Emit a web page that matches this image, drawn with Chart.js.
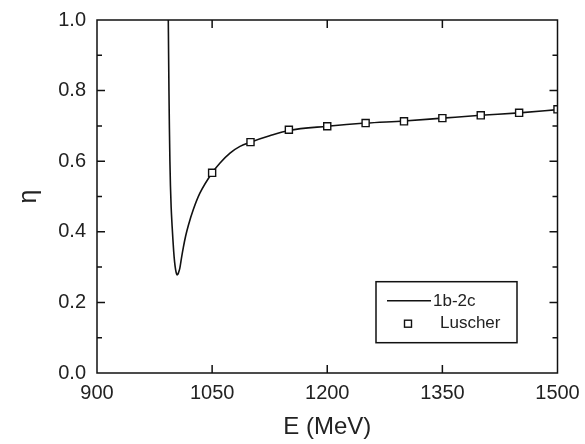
<!DOCTYPE html>
<html>
<head>
<meta charset="utf-8">
<script src="https://cdn.jsdelivr.net/npm/chart.js@4/dist/chart.umd.min.js"></script>
<style>
    html, body { margin: 0; padding: 0; background: #fff; }
    #wrap { width: 585px; height: 444px; }
</style>
</head>
<body>
<div id="wrap"><canvas id="etaChart"></canvas></div>
<script>
// 1b-2c curve
const curveEnergy = [992.9, 993.3, 993.75, 994.3, 995.0, 995.7, 996.6, 997.9, 998.9, 999.9,
    1001.1, 1002.4, 1003.6, 1004.4, 1005.5, 1006.5, 1008, 1010, 1012.5, 1015.5,
    1019, 1025.5, 1034.2, 1050, 1060.3, 1073.3, 1086.3, 1100, 1125, 1150,
    1200, 1250, 1300, 1350, 1400, 1450, 1500];
const curveEta = [1.0, 0.9, 0.8, 0.7, 0.6, 0.53, 0.47, 0.415, 0.378, 0.345,
    0.315, 0.293, 0.281, 0.278, 0.28, 0.286, 0.298, 0.325, 0.356, 0.388,
    0.418, 0.463, 0.510, 0.567, 0.595, 0.623, 0.642, 0.654, 0.672, 0.687,
    0.699, 0.708, 0.714, 0.722, 0.730, 0.737, 0.746];

// Luscher points
const luscherEnergy = [1050, 1100, 1150, 1200, 1250, 1300, 1350, 1400, 1450, 1500];
const luscherEta = [0.567, 0.654, 0.689, 0.699, 0.708, 0.713, 0.722, 0.730, 0.737, 0.747];

const seriesLabels = ['1b-2c', 'Luscher'];
const xTickStep = 150;
const yTickStep = 0.1;

const FONT = 'Liberation Sans, Arial, Helvetica, sans-serif';

function toPoints(xs, ys) {
    return xs.map((x, i) => ({ x: x, y: ys[i] }));
}

// frame with inward ticks, like the original plot
const framePlugin = {
    id: 'frame',
    afterDatasetsDraw(chart) {
        const { ctx, chartArea: a, scales } = chart;
        ctx.save();
        ctx.strokeStyle = '#111';
        ctx.lineWidth = 1.5;
        ctx.strokeRect(a.left, a.top, a.right - a.left, a.bottom - a.top);

        ctx.beginPath();
        scales.x.ticks.forEach(t => {
            if (t.value <= scales.x.min || t.value >= scales.x.max) return;
            const px = scales.x.getPixelForValue(t.value);
            ctx.moveTo(px, a.bottom);
            ctx.lineTo(px, a.bottom - 8);
            ctx.moveTo(px, a.top);
            ctx.lineTo(px, a.top + 8);
        });
        scales.y.ticks.forEach(t => {
            if (t.value <= scales.y.min || t.value >= scales.y.max) return;
            const py = scales.y.getPixelForValue(t.value);
            const len = Math.round(t.value * 10) % 2 === 0 ? 8 : 5;
            ctx.moveTo(a.left, py);
            ctx.lineTo(a.left + len, py);
            ctx.moveTo(a.right, py);
            ctx.lineTo(a.right - len, py);
        });
        ctx.stroke();
        ctx.restore();
    }
};

// boxed legend inside the plot, lower right
const legendBoxPlugin = {
    id: 'legendBox',
    afterDraw(chart) {
        const { ctx, chartArea: a } = chart;
        const left = a.right - 181.5;
        const top = a.bottom - 91.3;
        ctx.save();
        ctx.fillStyle = '#fff';
        ctx.fillRect(left, top, 141, 61);
        ctx.strokeStyle = '#111';
        ctx.lineWidth = 1.5;
        ctx.strokeRect(left, top, 141, 61);

        // line sample
        ctx.beginPath();
        ctx.moveTo(left + 11, top + 19);
        ctx.lineTo(left + 55, top + 19);
        ctx.stroke();

        // square sample
        ctx.lineWidth = 1.4;
        ctx.strokeRect(left + 28.5, top + 38.5, 7, 7);

        ctx.fillStyle = '#222';
        ctx.font = '17px ' + FONT;
        ctx.textBaseline = 'middle';
        ctx.fillText(seriesLabels[0], left + 57, top + 20);
        ctx.fillText(seriesLabels[1], left + 64, top + 42);
        ctx.restore();
    }
};

new Chart(document.getElementById('etaChart').getContext('2d'), {
    type: 'scatter',
    data: {
        datasets: [
            {
                label: seriesLabels[1],
                data: toPoints(luscherEnergy, luscherEta),
                pointStyle: 'rect',
                pointRadius: 5,
                pointBackgroundColor: '#fff',
                pointBorderColor: '#111',
                pointBorderWidth: 1.4,
                showLine: false,
                order: 0
            },
            {
                label: seriesLabels[0],
                data: toPoints(curveEnergy, curveEta),
                showLine: true,
                borderColor: '#111',
                borderWidth: 1.6,
                pointRadius: 0,
                cubicInterpolationMode: 'monotone',
                order: 1
            }
        ]
    },
    options: {
        responsive: true,
        maintainAspectRatio: false,
        animation: false,
        layout: {
            padding: { top: 20, right: 27.5, left: 0, bottom: 0 }
        },
        scales: {
            x: {
                type: 'linear',
                min: 900,
                max: 1500,
                afterFit: (scale) => {
                    scale.height = 71;
                    scale.paddingLeft = 0;
                    scale.paddingRight = 0;
                },
                grid: { display: false, drawTicks: false },
                border: { display: false },
                ticks: {
                    stepSize: xTickStep,
                    padding: 8,
                    color: '#222',
                    font: { family: FONT, size: 20 },
                    maxRotation: 0,
                    callback: (v) => String(v)
                },
                title: {
                    display: true,
                    text: 'E (MeV)',
                    color: '#222',
                    font: { family: FONT, size: 24 },
                    padding: { top: 0, bottom: 2 }
                }
            },
            y: {
                min: 0,
                max: 1,
                afterFit: (scale) => {
                    scale.width = 97;
                    scale.paddingTop = 0;
                    scale.paddingBottom = 0;
                },
                grid: { display: false, drawTicks: false },
                border: { display: false },
                ticks: {
                    stepSize: yTickStep,
                    padding: 11,
                    color: '#222',
                    font: { family: FONT, size: 20 },
                    callback: (v) => (Math.round(v * 10) % 2 === 0 ? v.toFixed(1) : '')
                },
                title: {
                    display: true,
                    text: 'η',
                    color: '#222',
                    font: { family: FONT, size: 25 },
                    padding: { top: 14, bottom: 0 }
                }
            }
        },
        plugins: {
            legend: { display: false },
            tooltip: { enabled: false }
        }
    },
    plugins: [framePlugin, legendBoxPlugin]
});
</script>
</body>
</html>
